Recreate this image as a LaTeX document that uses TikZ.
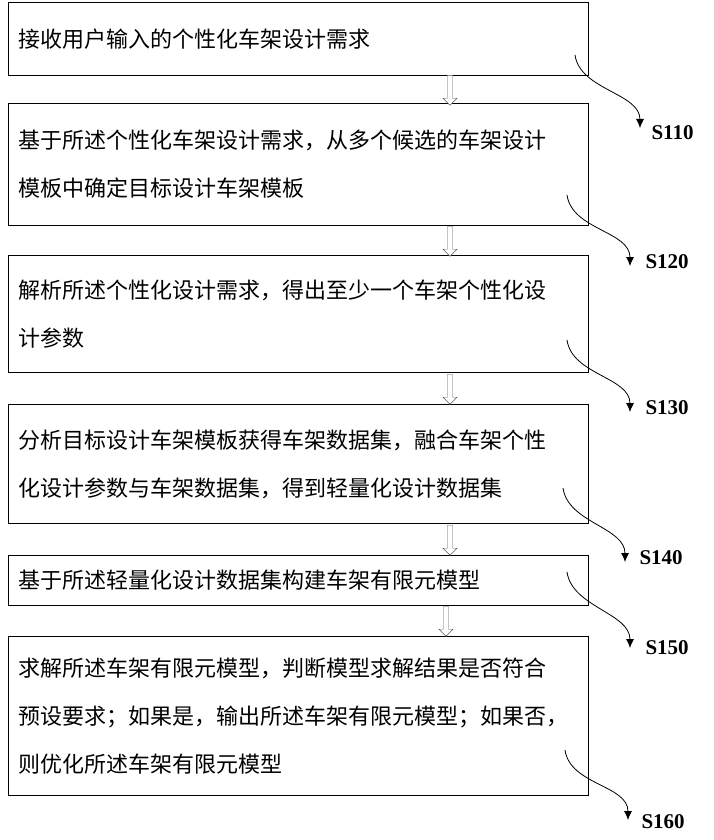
\documentclass[tikz,border=0pt]{standalone}
\usepackage{fontspec}
\setmainfont{Liberation Serif}
\newfontfamily\cjk{Noto Sans CJK SC}
\usetikzlibrary{shapes.arrows,arrows.meta}
\tikzset{
  stepbox/.style={draw,thick,anchor=north west,minimum width=572,text width=560,
    inner xsep=10,align=left,font=\cjk\fontsize{22}{48}\selectfont},
  flow/.style={single arrow,draw=gray!70!black,fill=white,rotate=-90,minimum height=30,
    minimum width=14,single arrow head extend=3,inner sep=1.5},
  tag/.style={font=\bfseries\fontsize{21}{24}\selectfont,anchor=west},
  lead/.style={-{Latex[length=9,width=8]},thick}
}
\begin{document}
\begin{tikzpicture}[x=1pt,y=-1pt]
\useasboundingbox (0,0) rectangle (713,840);
\node[stepbox,minimum height=73] (b1) at (8,2) {接收用户输入的个性化车架设计需求};
\node[stepbox,minimum height=122] (b2) at (8,103) {基于所述个性化车架设计需求，从多个候选的车架设计\\模板中确定目标设计车架模板};
\node[stepbox,minimum height=117] (b3) at (8,255) {解析所述个性化设计需求，得出至少一个车架个性化设\\计参数};
\node[stepbox,minimum height=119] (b4) at (8,404) {分析目标设计车架模板获得车架数据集，融合车架个性\\化设计参数与车架数据集，得到轻量化设计数据集};
\node[stepbox,minimum height=50] (b5) at (8,555) {基于所述轻量化设计数据集构建车架有限元模型};
\node[stepbox,minimum height=159] (b6) at (8,636) {求解所述车架有限元模型，判断模型求解结果是否符合\\预设要求；如果是，输出所述车架有限元模型；如果否，\\则优化所述车架有限元模型};
% hollow arrows between steps
\node[flow] (a1) at (450,89) {};
\node[flow] (a2) at (450,240) {};
\node[flow] (a3) at (450,388) {};
\node[flow] (a4) at (450,539) {};
\node[flow] (a5) at (446,620) {};
% step labels
\node[tag] (s1) at (648,133) {S110};
\node[tag] (s2) at (642,262) {S120};
\node[tag] (s3) at (642,408) {S130};
\node[tag] (s4) at (636,558) {S140};
\node[tag] (s5) at (642,648) {S150};
\node[tag] (s6) at (638,822) {S160};
\coordinate (c1) at (575,55);  \coordinate (t1) at (640,128);
\coordinate (c2) at (567,195); \coordinate (t2) at (630,266);
\coordinate (c3) at (567,340); \coordinate (t3) at (630,412);
\coordinate (c4) at (563,488); \coordinate (t4) at (625,562);
\coordinate (c5) at (567,572); \coordinate (t5) at (630,648);
\coordinate (c6) at (565,750); \coordinate (t6) at (628,820);
\foreach \i in {1,...,6}
  \draw[lead] (c\i) .. controls +(5,35) and +(0,-35) .. (t\i);
\end{tikzpicture}
\end{document}
